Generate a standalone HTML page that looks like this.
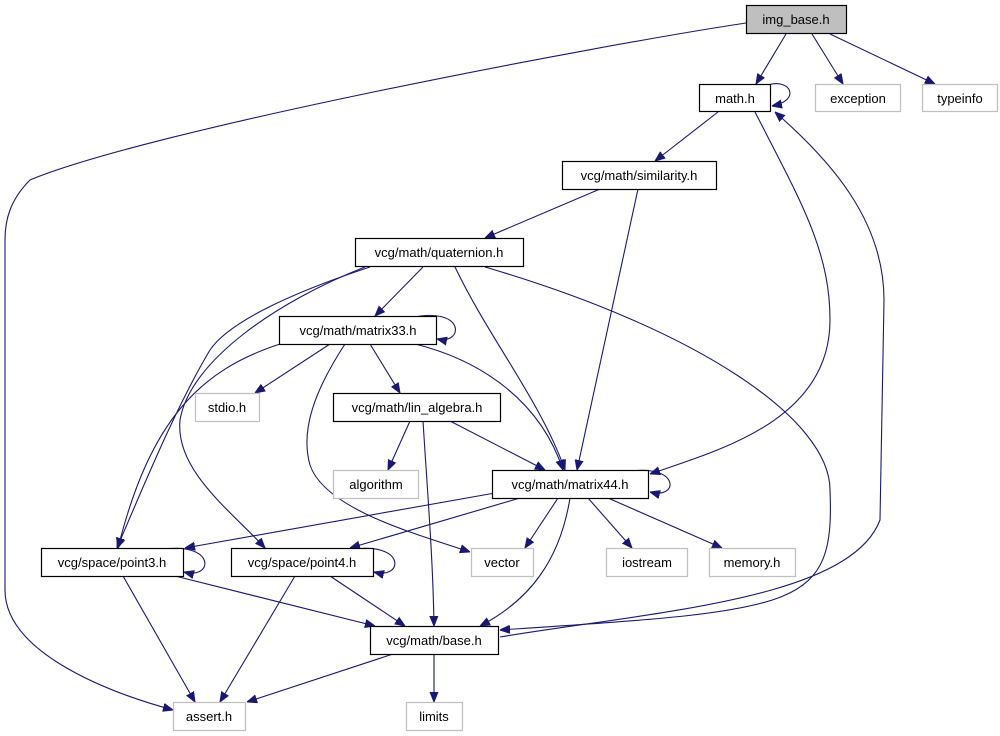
<!DOCTYPE html>
<html><head><meta charset="utf-8"><style>
html,body{margin:0;padding:0;background:#fff;}
svg{display:block;}
text{font-family:"Liberation Sans",sans-serif;font-size:13px;fill:#000;}
</style></head><body>
<svg width="1000" height="736" viewBox="0 0 1000 736" xmlns="http://www.w3.org/2000/svg">
<defs>
<marker id="a" viewBox="0 0 10 10" refX="10" refY="5" markerWidth="10" markerHeight="10" markerUnits="userSpaceOnUse" orient="auto">
<path d="M0,1 L10,5 L0,9 z" fill="#191970" stroke="#191970"/>
</marker>
</defs>
<g fill="none" stroke="#191970" stroke-width="1.1" marker-end="url(#a)">
<path d="M786,34 L756,84"/>
<path d="M812,34 L843,84"/>
<path d="M830,34 L935,84"/>
<path d="M746,23 C600,45 150,130 30,180 C10,200 5,220 5,240 L5,590 C5,650 100,690 173,710"/>
<path d="M768,85 C790,78 802,100 772,106"/>
<path d="M718,112 L655,161"/>
<path d="M755,112 C800,200 830,250 830,320 C830,420 720,450 650,474"/>
<path d="M500,637 C650,612 850,600 880,520 L884,300 C884,220 830,160 775,112"/>
<path d="M485,267 C700,330 830,420 830,490 C835,610 800,610 500,630"/>
<path d="M600,189 L485,238"/>
<path d="M638,189 L577,470"/>
<path d="M423,267 L375,316"/>
<path d="M455,267 C490,340 540,400 565,470"/>
<path d="M370,267 C300,290 230,320 210,350 C180,400 150,470 117,548"/>
<path d="M365,267 C280,300 190,360 180,420 C175,470 230,510 265,548"/>
<path d="M410,318 C465,305 465,345 437,339"/>
<path d="M330,344 L255,393"/>
<path d="M370,344 L400,393"/>
<path d="M345,344 C315,390 300,430 310,465 C325,510 420,535 470,552"/>
<path d="M415,344 C480,360 540,400 563,470"/>
<path d="M280,344 C200,370 150,420 118,548"/>
<path d="M410,421 L388,470"/>
<path d="M423,421 C428,500 433,560 434,626"/>
<path d="M450,421 L545,470"/>
<path d="M625,472 C680,462 680,500 650,492"/>
<path d="M495,493 L185,548"/>
<path d="M520,498 L350,548"/>
<path d="M558,498 L525,548"/>
<path d="M588,498 L632,548"/>
<path d="M608,498 L722,548"/>
<path d="M570,498 C560,560 530,600 480,626"/>
<path d="M160,550 C215,540 215,580 184,572"/>
<path d="M350,550 C405,540 405,580 374,572"/>
<path d="M175,576 L375,626"/>
<path d="M123,576 L195,702"/>
<path d="M330,576 L405,626"/>
<path d="M295,576 L220,702"/>
<path d="M393,654 L247,702"/>
<path d="M434,654 L434,702"/>
</g>
<g stroke-width="1.2">
<rect x="746.5" y="5.5" width="100" height="28" fill="#bfbfbf" stroke="#000"/>
<rect x="699.5" y="84.5" width="71" height="27" fill="#fff" stroke="#000"/>
<rect x="815.5" y="84.5" width="85" height="27" fill="#fff" stroke="#bfbfbf"/>
<rect x="922.5" y="84.5" width="75" height="27" fill="#fff" stroke="#bfbfbf"/>
<rect x="562.5" y="161.5" width="154" height="28" fill="#fff" stroke="#000"/>
<rect x="355.5" y="238.5" width="168" height="28" fill="#fff" stroke="#000"/>
<rect x="279.5" y="316.5" width="157" height="28" fill="#fff" stroke="#000"/>
<rect x="195.5" y="393.5" width="64" height="28" fill="#fff" stroke="#bfbfbf"/>
<rect x="333.5" y="393.5" width="167" height="28" fill="#fff" stroke="#000"/>
<rect x="333.5" y="470.5" width="85" height="28" fill="#fff" stroke="#bfbfbf"/>
<rect x="492.5" y="470.5" width="156" height="28" fill="#fff" stroke="#000"/>
<rect x="41.5" y="548.5" width="142" height="28" fill="#fff" stroke="#000"/>
<rect x="231.5" y="548.5" width="142" height="28" fill="#fff" stroke="#000"/>
<rect x="471.5" y="548.5" width="62" height="28" fill="#fff" stroke="#bfbfbf"/>
<rect x="606.5" y="548.5" width="81" height="28" fill="#fff" stroke="#bfbfbf"/>
<rect x="709.5" y="548.5" width="86" height="28" fill="#fff" stroke="#bfbfbf"/>
<rect x="370.5" y="626.5" width="128" height="28" fill="#fff" stroke="#000"/>
<rect x="173.5" y="702.5" width="72" height="28" fill="#fff" stroke="#bfbfbf"/>
<rect x="406.5" y="702.5" width="56" height="28" fill="#fff" stroke="#bfbfbf"/>
</g>
<g text-anchor="middle">
<text x="796" y="24">img_base.h</text>
<text x="735" y="103">math.h</text>
<text x="858" y="103">exception</text>
<text x="960" y="103">typeinfo</text>
<text x="639" y="180">vcg/math/similarity.h</text>
<text x="439" y="257">vcg/math/quaternion.h</text>
<text x="358" y="335">vcg/math/matrix33.h</text>
<text x="227" y="412">stdio.h</text>
<text x="417" y="412">vcg/math/lin_algebra.h</text>
<text x="376" y="489">algorithm</text>
<text x="570" y="489">vcg/math/matrix44.h</text>
<text x="112" y="567">vcg/space/point3.h</text>
<text x="302" y="567">vcg/space/point4.h</text>
<text x="502" y="567">vector</text>
<text x="647" y="567">iostream</text>
<text x="752" y="567">memory.h</text>
<text x="434" y="645">vcg/math/base.h</text>
<text x="209" y="721">assert.h</text>
<text x="434" y="721">limits</text>
</g>
</svg>
</body></html>
